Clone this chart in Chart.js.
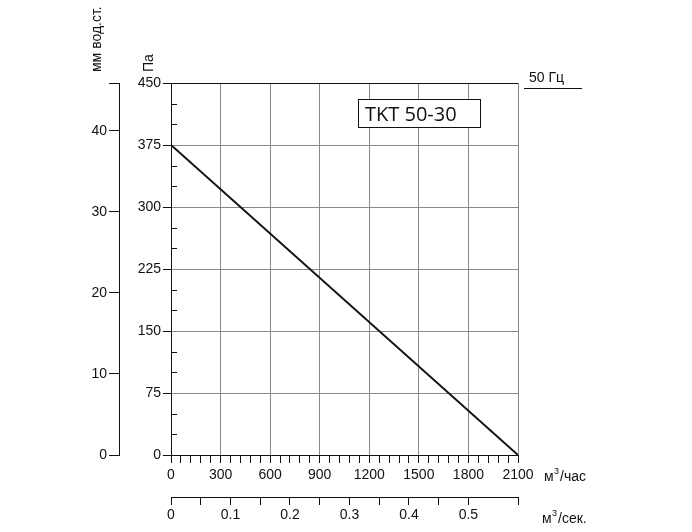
<!DOCTYPE html>
<html>
<head>
<meta charset="utf-8">
<script src="https://cdn.jsdelivr.net/npm/chart.js@4"></script>
<style>
  html, body { margin: 0; padding: 0; background: #fff; }
  #wrap { width: 692px; height: 532px; }
</style>
</head>
<body>
<div id="wrap"><canvas id="c" width="692" height="532"></canvas></div>
<script>
// curve TKT 50-30, 50 Hz
var flowM3h = [0, 2100];
var pressurePa = [375, 0];

var title = 'TKT 50-30';
var freqLabel = '50 Гц';

var paMax = 450, flowMax = 2100;
var PA_PER_MM = 9.80665;

var ink = '#111';
var gridGray = '#888';
var font = { family: 'Liberation Sans, Arial, sans-serif', size: 14 };

function isMult(v, m) { return Math.abs(v / m - Math.round(v / m)) < 1e-6; }

var extras = {
  id: 'extras',
  afterDraw: function (chart) {
    var ctx = chart.ctx;
    var ys = chart.scales.y, xs = chart.scales.x;
    var left = xs.getPixelForValue(0);
    ctx.save();
    ctx.strokeStyle = ink;
    ctx.lineWidth = 1;
    // minor ticks on Pa axis, pointing into the plot
    for (var v = 25; v < paMax; v += 25) {
      if (isMult(v, 75)) continue;
      var py = Math.round(ys.getPixelForValue(v)) + 0.5;
      ctx.beginPath(); ctx.moveTo(left, py); ctx.lineTo(left + 6, py); ctx.stroke();
    }
    // top frame line
    var top = Math.round(ys.getPixelForValue(paMax)) + 0.5;
    ctx.beginPath(); ctx.moveTo(left - 8, top); ctx.lineTo(xs.getPixelForValue(flowMax), top); ctx.stroke();

    ctx.fillStyle = ink;
    ctx.font = '14px Liberation Sans, Arial, sans-serif';
    // rotated axis units
    ctx.save(); ctx.translate(153, 72); ctx.rotate(-Math.PI / 2);
    ctx.textAlign = 'left'; ctx.fillText('Па', 0, 0); ctx.restore();
    ctx.save(); ctx.translate(101, 72); ctx.rotate(-Math.PI / 2);
    ctx.textAlign = 'left'; ctx.fillText('мм вод.ст.', 0, 0); ctx.restore();

    // flow units
    ctx.textAlign = 'left';
    ctx.fillText('м', 544, 481); ctx.font = '9px Liberation Sans, Arial, sans-serif';
    ctx.fillText('3', 554, 474); ctx.font = '14px Liberation Sans, Arial, sans-serif';
    ctx.fillText('/час', 560, 481);
    ctx.fillText('м', 542, 523); ctx.font = '9px Liberation Sans, Arial, sans-serif';
    ctx.fillText('3', 552, 516); ctx.font = '14px Liberation Sans, Arial, sans-serif';
    ctx.fillText('/сек.', 558, 523);

    // frequency label
    ctx.fillText(freqLabel, 529, 82);
    ctx.beginPath(); ctx.moveTo(524, 88.5); ctx.lineTo(582, 88.5); ctx.stroke();

    // title box
    ctx.fillStyle = '#fff';
    ctx.fillRect(358, 99, 122, 28);
    ctx.strokeRect(358.5, 99.5, 122, 28);
    ctx.fillStyle = ink;
    ctx.font = '20px Open Sans, Liberation Sans, sans-serif';
    ctx.fillText(title, 365, 121);
    ctx.restore();
  }
};

new Chart(document.getElementById('c'), {
  type: 'scatter',
  data: {
    datasets: [{
      data: flowM3h.map(function (f, i) { return { x: f, y: pressurePa[i] }; }),
      showLine: true,
      borderColor: ink,
      borderWidth: 2,
      pointRadius: 0,
      xAxisID: 'x', yAxisID: 'y'
    }]
  },
  options: {
    responsive: false,
    animation: false,
    layout: { padding: { left: 60, top: 83, right: 174, bottom: 5 } },
    plugins: { legend: { display: false }, tooltip: { enabled: false } },
    scales: {
      x: {
        type: 'linear', position: 'bottom', min: 0, max: flowMax, weight: 0,
        afterFit: function (s) { s.height = 42; },
        ticks: {
          stepSize: 60, color: ink, font: font, padding: 4, maxRotation: 0, autoSkip: false,
          callback: function (v) { return isMult(v, 300) ? v : ''; }
        },
        grid: {
          color: function (c) { return isMult(c.tick.value, 300) ? gridGray : 'rgba(0,0,0,0)'; },
          tickColor: ink, tickLength: 8
        },
        border: { color: ink, width: 1 }
      },
      x2: {
        type: 'linear', position: 'bottom', min: 0, max: flowMax / 3600, weight: 1,
        afterFit: function (s) { s.height = 30; },
        ticks: {
          stepSize: 0.05, color: ink, font: font, padding: 2, maxRotation: 0, autoSkip: false,
          callback: function (v) { return isMult(v, 0.1) ? (Math.round(v * 10) / 10).toString() : ''; }
        },
        grid: { drawOnChartArea: false, tickColor: ink, tickLength: 8 },
        border: { color: ink, width: 1 }
      },
      y: {
        type: 'linear', position: 'left', min: 0, max: paMax, weight: 0,
        afterFit: function (s) { s.width = 52; },
        ticks: {
          stepSize: 25, color: ink, font: font, padding: 2, autoSkip: false,
          callback: function (v) { return isMult(v, 75) ? v : ''; }
        },
        grid: {
          color: function (c) { return isMult(c.tick.value, 75) ? gridGray : 'rgba(0,0,0,0)'; },
          tickColor: function (c) { return isMult(c.tick.value, 75) ? ink : 'rgba(0,0,0,0)'; },
          tickLength: 8
        },
        border: { color: ink, width: 1 }
      },
      y2: {
        type: 'linear', position: 'left', min: 0, max: paMax / PA_PER_MM, weight: 1,
        afterFit: function (s) { s.width = 59; },
        ticks: {
          stepSize: 10, color: ink, font: font, padding: 2, autoSkip: false,
          callback: function (v) { return isMult(v, 10) ? v : ''; }
        },
        grid: { drawOnChartArea: false, tickColor: ink, tickLength: 10 },
        border: { color: ink, width: 1 }
      }
    }
  },
  plugins: [extras]
});
</script>
</body>
</html>
